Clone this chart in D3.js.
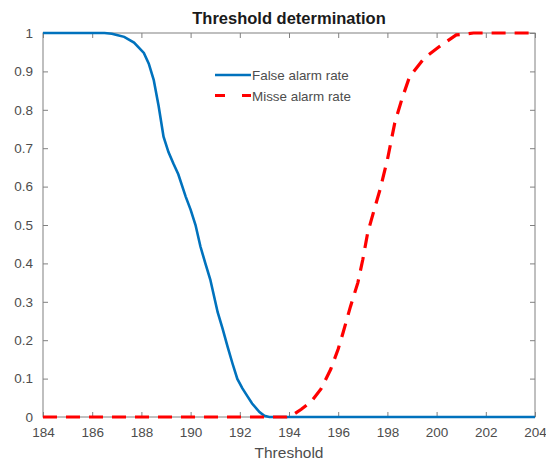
<!DOCTYPE html>
<html><head><meta charset="utf-8">
<script src="https://cdn.jsdelivr.net/npm/d3@7"></script>
<style>body{margin:0;background:#fff}svg{display:block}</style>
</head><body><svg id="c" width="546" height="464"></svg>
<script>
const falseX = [184,186.5,186.8,187.0,187.3,187.7,188.1,188.3,188.5,188.7,188.9,189.1,189.3,189.5,189.8,190.0,190.2,190.4,190.6,190.8,191.1,191.3,191.5,191.7,191.9,192.1,192.3,192.5,192.8,193.0,193.2,204];
const falseY = [1,1,0.998,0.995,0.99,0.975,0.948,0.92,0.878,0.81,0.73,0.69,0.66,0.632,0.574,0.54,0.5,0.444,0.40,0.358,0.273,0.23,0.184,0.14,0.099,0.075,0.055,0.035,0.013,0.003,0,0];
const missX = [184,193.9,194.1,194.5,194.9,195.3,195.7,196.0,196.2,196.5,196.8,197.0,197.2,197.5,197.7,198.0,198.3,198.6,198.9,199.5,200.1,200.8,201.5,204];
const missY = [0,0,0.003,0.02,0.04,0.073,0.125,0.177,0.22,0.288,0.35,0.41,0.48,0.548,0.592,0.67,0.766,0.83,0.886,0.935,0.964,0.995,1,1];
const xTicks = [184,186,188,190,192,194,196,198,200,202,204];
const yTicks = [0,0.1,0.2,0.3,0.4,0.5,0.6,0.7,0.8,0.9,1];
const legendLabels = ["False alarm rate","Misse alarm rate"];

const svg = d3.select("#c");
const L=43,R=535,T=33,B=417;
const x = d3.scaleLinear().domain([184,204]).range([L,R]);
const y = d3.scaleLinear().domain([0,1]).range([B,T]);
const font = "Liberation Sans, Arial, sans-serif";
const axCol = "#808080", txtCol="#4d4d4d";

function styleAxis(g, showLabels){
  g.select(".domain").remove();
  g.selectAll(".tick line").attr("stroke",axCol);
  g.selectAll(".tick text").attr("fill",txtCol).style("font-family",font).style("font-size","13.5px");
  if(!showLabels) g.selectAll(".tick text").remove();
}
svg.append("g").attr("transform",`translate(0,${B})`)
  .call(d3.axisBottom(x).tickValues(xTicks).tickFormat(d3.format("d")).tickSizeInner(-5).tickSizeOuter(0).tickPadding(10))
  .call(g=>styleAxis(g,true));
svg.append("g").attr("transform",`translate(0,${T})`)
  .call(d3.axisTop(x).tickValues(xTicks).tickSizeInner(-5).tickSizeOuter(0))
  .call(g=>styleAxis(g,false));
svg.append("g").attr("transform",`translate(${L},0)`)
  .call(d3.axisLeft(y).tickValues(yTicks).tickFormat(d=>d3.format("~g")(d)).tickSizeInner(-5).tickSizeOuter(0).tickPadding(10))
  .call(g=>styleAxis(g,true));
svg.append("g").attr("transform",`translate(${R},0)`)
  .call(d3.axisRight(y).tickValues(yTicks).tickSizeInner(-5).tickSizeOuter(0))
  .call(g=>styleAxis(g,false));
svg.append("rect").attr("x",L).attr("y",T).attr("width",R-L).attr("height",B-T)
  .attr("fill","none").attr("stroke",axCol).attr("stroke-width",1);

const line = d3.line().x(d=>x(d[0])).y(d=>y(d[1]));
const fa = falseX.map((v,i)=>[v,falseY[i]]);
const ms = missX.map((v,i)=>[v,missY[i]]);
svg.append("path").datum(fa).attr("d",line).attr("fill","none").attr("stroke","#0072BD").attr("stroke-width",2.6);
svg.append("path").datum(ms).attr("d",line).attr("fill","none").attr("stroke","#ff0000").attr("stroke-width",3.2).attr("stroke-dasharray","14,9");

// title & label
svg.append("text").attr("x",(L+R)/2).attr("y",24).attr("text-anchor","middle")
  .style("font-family",font).style("font-size","16.5px").style("font-weight","bold").attr("fill","#1a1a1a").text("Threshold determination");
svg.append("text").attr("x",(L+R)/2).attr("y",458).attr("text-anchor","middle")
  .style("font-family",font).style("font-size","15.5px").attr("fill",txtCol).text("Threshold");

// legend
const lg = svg.append("g");
const styles=[{c:"#0072BD",w:2.6,d:null},{c:"#ff0000",w:3.2,d:"10,17"}];
legendLabels.forEach((t,i)=>{
  const yy = 75+i*20.5;
  lg.append("line").attr("x1",215).attr("x2",251).attr("y1",yy).attr("y2",yy)
    .attr("stroke",styles[i].c).attr("stroke-width",styles[i].w).attr("stroke-dasharray",styles[i].d);
  lg.append("text").attr("x",252).attr("y",yy+5).style("font-family",font).style("font-size","13.4px")
    .attr("fill",txtCol).text(t);
});
</script></body></html>
